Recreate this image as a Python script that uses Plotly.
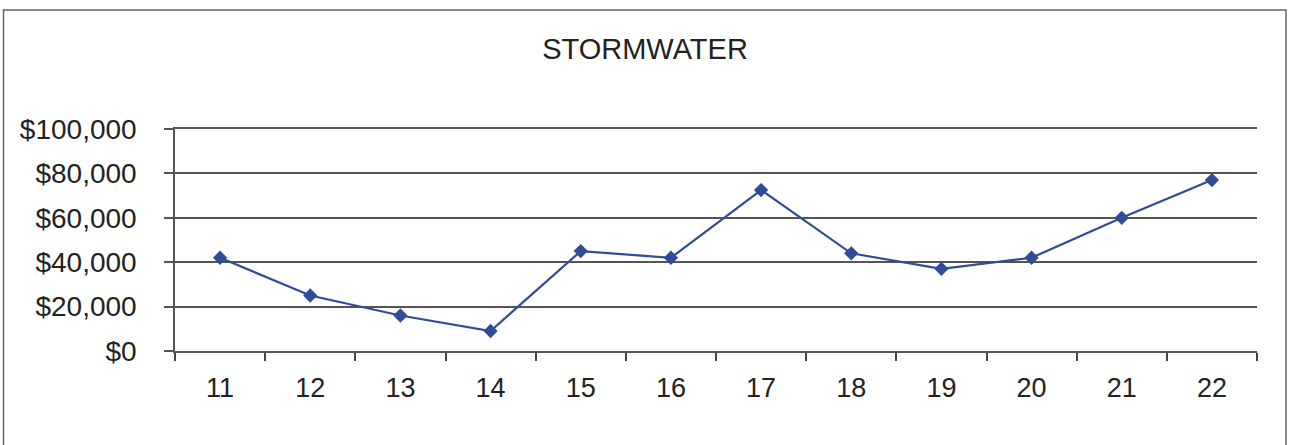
import plotly.graph_objects as go

years = ["11", "12", "13", "14", "15", "16", "17", "18", "19", "20", "21", "22"]
costs = [42000, 25000, 16000, 9000, 45000, 42000, 72500, 44000, 37000, 42000, 60000, 77000]
y_ticks = [0, 20000, 40000, 60000, 80000, 100000]
y_tick_labels = ["$0", "$20,000", "$40,000", "$60,000", "$80,000", "$100,000"]

L, R, T, B = 175, 33, 129, 94
W, H = 1290, 445
pw, ph = W - L - R, H - T - B

fig = go.Figure()
fig.add_trace(go.Scatter(
    x=years, y=costs, mode="lines+markers",
    line=dict(color="#304C96", width=2.2),
    marker=dict(symbol="diamond", size=11, color="#304C96"),
    showlegend=False,
))

def px_to_paper_x(px):
    return (px - L) / pw

def px_to_paper_y(py):
    return (H - B - py) / ph

fig.update_layout(
    width=W, height=H,
    margin=dict(l=L, r=R, t=T, b=B),
    paper_bgcolor="white", plot_bgcolor="white",
    font=dict(family="Liberation Sans, Arial, sans-serif", color="#222222"),
    title=dict(text="STORMWATER", x=0.5, xanchor="center", y=1 - 49 / H, yanchor="middle",
               font=dict(size=29, color="#222222")),
    xaxis=dict(
        type="category", range=[-0.5, len(years) - 0.5],
        tickson="boundaries", ticks="outside", ticklen=8,
        tickcolor="#444444", tickwidth=1.5, showgrid=False,
        showline=True, linecolor="#555555", linewidth=1.5, mirror=True,
        tickfont=dict(size=27), zeroline=False, ticklabelstandoff=12,
    ),
    yaxis=dict(
        range=[0, 100000], tickvals=y_ticks, ticktext=y_tick_labels,
        showgrid=True, gridcolor="#555555", gridwidth=1.5,
        ticks="outside", ticklen=9, tickcolor="#555555", tickwidth=1.5,
        showline=True, linecolor="#555555", linewidth=1.5,
        tickfont=dict(size=28), zeroline=False, ticklabelstandoff=22,
    ),
    shapes=[dict(
        type="rect", xref="paper", yref="paper",
        x0=px_to_paper_x(3.5), x1=px_to_paper_x(1286),
        y0=px_to_paper_y(460), y1=px_to_paper_y(10),
        line=dict(color="#666666", width=1.5), fillcolor="rgba(0,0,0,0)", layer="below",
    )],
)

fig.write_html(
    "out.html",
    config={"displayModeBar": False},
    post_script="document.body.style.margin='0px';document.body.style.overflow='hidden';",
)
